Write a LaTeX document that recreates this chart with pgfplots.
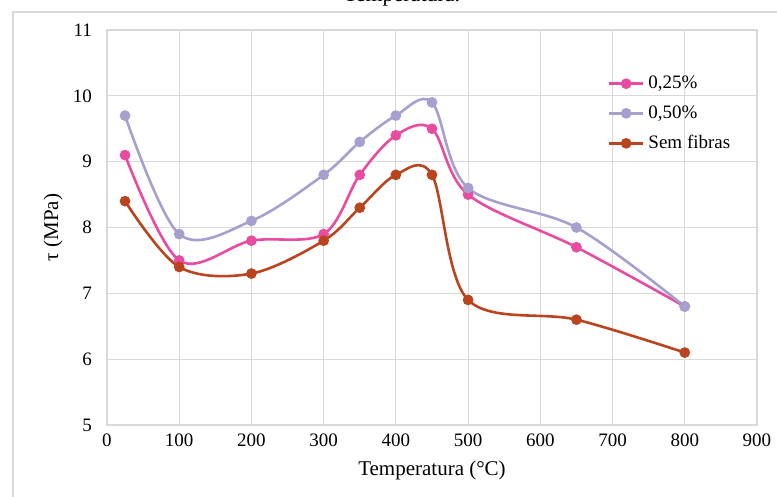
\documentclass[border=0pt]{standalone}
\usepackage{fontspec}
\setmainfont{Liberation Serif}
\usepackage{pgfplots}
\pgfplotsset{compat=1.18}

\definecolor{pinkc}{RGB}{232,76,160}
\definecolor{lilac}{RGB}{166,160,207}
\definecolor{rust}{RGB}{185,68,30}
\definecolor{gridc}{RGB}{217,217,217}

\begin{document}
\begin{tikzpicture}[x=1pt,y=1pt]
    % page is 777x497 px at 0.5pt per px
    \path[use as bounding box] (0pt,0pt) rectangle (388.5pt,248.5pt);
    \draw[gridc, line width=0.6pt] (6.5pt,-10pt) -- (6.5pt,242.5pt) -- (400pt,242.5pt);
    \node[anchor=base, font=\fontsize{11}{13}\selectfont] at (201pt,247.8pt) {Temperatura.};
    \begin{axis}[
        at={(53.5pt,36pt)}, anchor=south west,
        scale only axis,
        width=325pt, height=197.5pt,
        xmin=0, xmax=900,
        ymin=5, ymax=11,
        xtick={0,100,...,900},
        ytick={5,6,...,11},
        grid=major,
        grid style={gridc, line width=0.6pt},
        axis line style={gridc, line width=0.6pt},
        tick style={draw=none},
        /pgf/number format/assume math mode=true,
        ticklabel style={font=\fontsize{9.5}{11}\selectfont},
        yticklabel style={xshift=-4pt},
        xticklabel style={yshift=-1pt},
        xlabel={Temperatura (°C)},
        ylabel={τ (MPa)},
        xlabel style={font=\fontsize{10.5}{12}\selectfont, at={(axis description cs:0.5,-0.114)}, anchor=center},
        ylabel style={font=\fontsize{10.5}{12}\selectfont, at={(axis description cs:-0.083,0.5)}, anchor=center},
        legend cell align=left,
        legend style={draw=none, fill=none, at={(0.770,0.895)}, anchor=north west,
            font=\fontsize{9.5}{11}\selectfont, row sep=3pt, inner sep=0pt,
            /tikz/every even column/.append style={column sep=1pt}},
        legend image code/.code={
            \draw[#1, mark=none] (0pt,0pt) -- (17pt,0pt);
            \path[#1] plot coordinates {(8.5pt,0pt)};
        },
        every axis plot/.append style={smooth, tension=0.55, line width=1.3pt, mark=*, mark size=2pt},
    ]
    \addplot[color=pinkc, mark options={fill=pinkc, draw=pinkc}] coordinates {
        (25, 9.1) (100, 7.5) (200, 7.8) (300, 7.9) (350, 8.8)
        (400, 9.4) (450, 9.5) (500, 8.5) (650, 7.7) (800, 6.8)
    };
    \addlegendentry{0,25\%}
    \addplot[color=lilac, mark options={fill=lilac, draw=lilac}] coordinates {
        (25, 9.7) (100, 7.9) (200, 8.1) (300, 8.8) (350, 9.3)
        (400, 9.7) (450, 9.9) (500, 8.6) (650, 8.0) (800, 6.8)
    };
    \addlegendentry{0,50\%}
    \addplot[color=rust, mark options={fill=rust, draw=rust}] coordinates {
        (25, 8.4) (100, 7.4) (200, 7.3) (300, 7.8) (350, 8.3)
        (400, 8.8) (450, 8.8) (500, 6.9) (650, 6.6) (800, 6.1)
    };
    \addlegendentry{Sem fibras}
    \end{axis}
\end{tikzpicture}
\end{document}
